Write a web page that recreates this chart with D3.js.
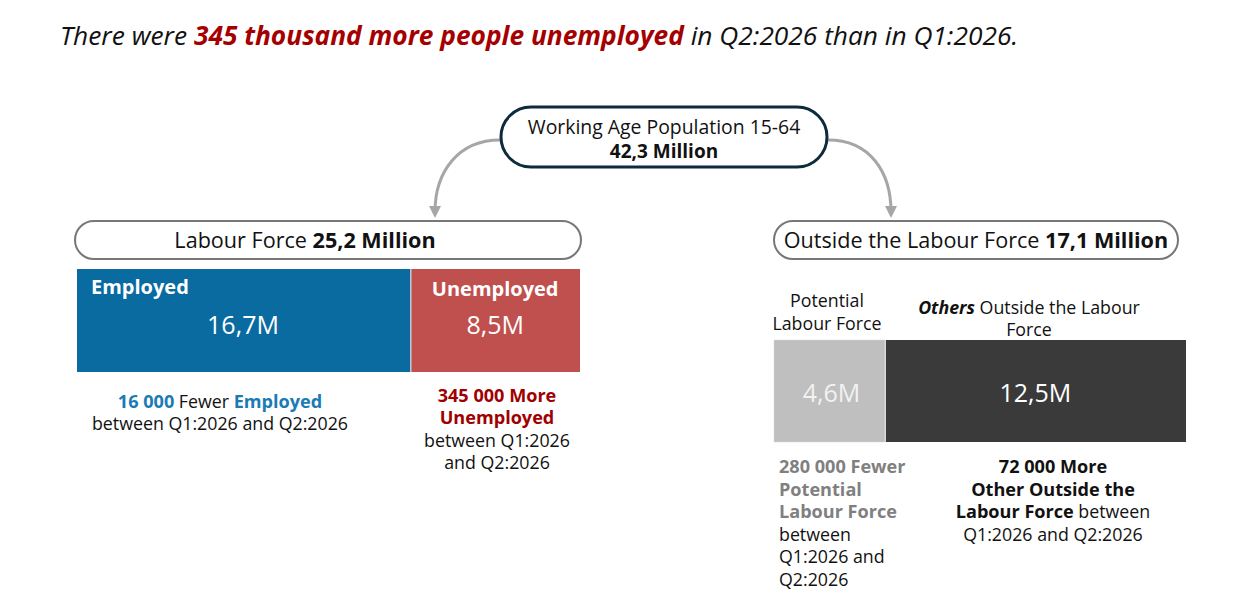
<!DOCTYPE html>
<html>
<head>
<meta charset="utf-8">
<script src="https://cdn.jsdelivr.net/npm/d3@7/dist/d3.min.js"></script>
<style>
  body { margin: 0; background: #fff; }
  svg { display: block; font-family: 'Open Sans', 'Noto Sans', sans-serif; }
</style>
</head>
<body>
<svg id="chart"></svg>
<script>
// values (millions) and quarterly changes (persons)
var workingAge = 42.3;
var labourParts = ['Employed', 'Unemployed'];
var labourValues = [16.7, 8.5];
var labourChanges = [-16000, 345000];
var outsideParts = ['Potential Labour Force', 'Others Outside the Labour Force'];
var outsideValues = [4.6, 12.5];
var outsideChanges = [-280000, 72000];
var quarters = ['Q1:2026', 'Q2:2026'];

var loc = d3.formatLocale({decimal: ',', thousands: ' ', grouping: [3], currency: ['', '']});
var fmtM = loc.format('.1f');
var fmtN = loc.format(',d');
var labourTotal = d3.sum(labourValues);
var outsideTotal = d3.sum(outsideValues);

var W = 1234, H = 601;
var svg = d3.select('#chart').attr('width', W).attr('height', H);

var blue = '#0a6ba1', blueText = '#1a7bb5', red = '#c0504d', darkRed = '#a00000',
    grey = '#bfbfbf', dark = '#3a3a3a', greyText = '#808080';
var fs = '17.8px', fsb = '18.1px';

// multi-line text block: lines is an array of arrays of {t, b, c, i}
function block(x, y, anchor, lh, lines) {
    var t = svg.append('text').attr('x', x).attr('y', y).attr('text-anchor', anchor)
        .style('font-size', fs).attr('fill', '#111');
    lines.forEach(function(line, li) {
        line.forEach(function(part, pi) {
            var s = t.append('tspan').text(part.t);
            if (pi === 0) s.attr('x', x).attr('dy', li ? lh : 0);
            if (part.b) s.style('font-weight', 700).style('font-size', part.i ? fs : fsb);
            if (part.i) s.style('font-style', 'italic');
            if (part.c) s.attr('fill', part.c);
        });
    });
    return t;
}

// headline
var title = svg.append('text').attr('x', 60).attr('y', 45)
    .style('font-size', '26.3px').style('font-style', 'italic').attr('fill', '#111');
title.append('tspan').text('There were ');
title.append('tspan').attr('fill', '#a50000').style('font-weight', 700)
    .text(fmtN(labourChanges[1] / 1000) + ' thousand more people unemployed');
title.append('tspan').text(' in ' + quarters[1] + ' than in ' + quarters[0] + '.');

// arrow marker
svg.append('defs').append('marker').attr('id', 'ah')
    .attr('viewBox', '0 0 10 10').attr('refX', 5).attr('refY', 5)
    .attr('markerWidth', 4).attr('markerHeight', 4).attr('orient', 'auto')
    .append('path').attr('d', 'M0,0L10,5L0,10z').attr('fill', '#a6a6a6');

svg.append('path').attr('d', 'M500,140C458,140 435,172 435,212')
    .attr('fill', 'none').attr('stroke', '#a6a6a6').attr('stroke-width', 3).attr('marker-end', 'url(#ah)');
svg.append('path').attr('d', 'M828,140C870,140 891,172 891,212')
    .attr('fill', 'none').attr('stroke', '#a6a6a6').attr('stroke-width', 3).attr('marker-end', 'url(#ah)');

// working age box
svg.append('rect').attr('x', 501).attr('y', 107).attr('width', 326).attr('height', 60)
    .attr('rx', 30).attr('fill', '#fff').attr('stroke', '#0d2b3c').attr('stroke-width', 3);
var wa = svg.append('text').attr('x', 664).attr('y', 134).attr('text-anchor', 'middle')
    .style('font-size', '19.4px').attr('fill', '#111');
wa.append('tspan').text('Working Age Population 15-64');
wa.append('tspan').attr('x', 664).attr('dy', 24).style('font-size', '19px').style('font-weight', 700)
    .text(fmtM(workingAge) + ' Million');

// group headers
function pill(x, w, cx, label, value) {
    svg.append('rect').attr('x', x).attr('y', 221).attr('width', w).attr('height', 38)
        .attr('rx', 19).attr('fill', '#fff').attr('stroke', '#777').attr('stroke-width', 2);
    var t = svg.append('text').attr('x', cx).attr('y', 248).attr('text-anchor', 'middle')
        .style('font-size', '21.6px').attr('fill', '#111');
    t.append('tspan').text(label + ' ');
    t.append('tspan').style('font-weight', 700).text(fmtM(value) + ' Million');
}
pill(75, 506, 305, 'Labour Force', labourTotal);
pill(774, 404, 976, 'Outside the Labour Force', outsideTotal);

// labour force bar
var xL = d3.scaleLinear().domain([0, labourTotal]).range([77, 580]);
var labourStart = [0, labourValues[0]];
var labourColors = [blue, red];
svg.selectAll('rect.lf').data(labourValues).enter().append('rect').attr('class', 'lf')
    .attr('x', function(d, i) { return xL(labourStart[i]) + (i ? 1 : 0); })
    .attr('y', 269)
    .attr('width', function(d, i) { return xL(labourStart[i] + d) - xL(labourStart[i]) - (i ? 1 : 0); })
    .attr('height', 103)
    .attr('fill', function(d, i) { return labourColors[i]; });
svg.append('text').attr('x', 91).attr('y', 294).style('font-size', '20px').style('font-weight', 700)
    .attr('fill', '#fff').text(labourParts[0]);
svg.append('text').attr('x', (xL(labourStart[1]) + xL(labourTotal)) / 2).attr('y', 296)
    .attr('text-anchor', 'middle').style('font-size', '20px').style('font-weight', 700)
    .attr('fill', '#fff').text(labourParts[1]);
svg.selectAll('text.lfv').data(labourValues).enter().append('text').attr('class', 'lfv')
    .attr('x', function(d, i) { return i ? (xL(labourStart[1]) + xL(labourTotal)) / 2 : 243; })
    .attr('y', 334).attr('text-anchor', 'middle').style('font-size', '25px').attr('fill', '#fff')
    .text(function(d) { return fmtM(d) + 'M'; });

// labour force notes
block(220, 408, 'middle', 22, [
    [{t: fmtN(Math.abs(labourChanges[0])), b: true, c: blueText}, {t: ' Fewer '}, {t: labourParts[0], b: true, c: blueText}],
    [{t: 'between ' + quarters[0] + ' and ' + quarters[1]}]
]);
block(497, 402, 'middle', 22.4, [
    [{t: fmtN(labourChanges[1]) + ' More', b: true, c: darkRed}],
    [{t: labourParts[1], b: true, c: darkRed}],
    [{t: 'between ' + quarters[0]}],
    [{t: 'and ' + quarters[1]}]
]);

// outside labour force bar
var xO = d3.scaleLinear().domain([0, outsideTotal]).range([774, 1186]);
var outsideStart = [0, outsideValues[0]];
var outsideColors = [grey, dark];
svg.selectAll('rect.olf').data(outsideValues).enter().append('rect').attr('class', 'olf')
    .attr('x', function(d, i) { return xO(outsideStart[i]) + (i ? 1 : 0); })
    .attr('y', 340)
    .attr('width', function(d, i) { return xO(outsideStart[i] + d) - xO(outsideStart[i]) - (i ? 1 : 0); })
    .attr('height', 102)
    .attr('fill', function(d, i) { return outsideColors[i]; })
    .attr('stroke', function(d, i) { return i ? 'none' : '#d8d8d8'; })
    .attr('stroke-dasharray', '1,1');
svg.selectAll('text.olfv').data(outsideValues).enter().append('text').attr('class', 'olfv')
    .attr('x', function(d, i) { return (xO(outsideStart[i]) + xO(outsideStart[i] + d)) / 2 + (i ? 0 : 2); })
    .attr('y', 402).attr('text-anchor', 'middle').style('font-size', '25px')
    .attr('fill', function(d, i) { return i ? '#fff' : '#f2f2f2'; })
    .text(function(d) { return fmtM(d) + 'M'; });

// outside labels
block(827, 307, 'middle', 23, [[{t: 'Potential'}], [{t: 'Labour Force'}]]);
block(1029, 314, 'middle', 22, [
    [{t: 'Others', b: true, i: true}, {t: ' Outside the Labour'}],
    [{t: 'Force'}]
]);

// outside notes
block(779, 473, 'start', 22.6, [
    [{t: fmtN(Math.abs(outsideChanges[0])) + ' Fewer', b: true, c: greyText}],
    [{t: 'Potential', b: true, c: greyText}],
    [{t: 'Labour Force', b: true, c: greyText}],
    [{t: 'between'}],
    [{t: quarters[0] + ' and'}],
    [{t: quarters[1]}]
]);
block(1053, 473, 'middle', 22.7, [
    [{t: fmtN(outsideChanges[1]) + ' More', b: true}],
    [{t: 'Other Outside the', b: true}],
    [{t: 'Labour Force', b: true}, {t: ' between'}],
    [{t: quarters[0] + ' and ' + quarters[1]}]
]);
</script>
</body>
</html>
